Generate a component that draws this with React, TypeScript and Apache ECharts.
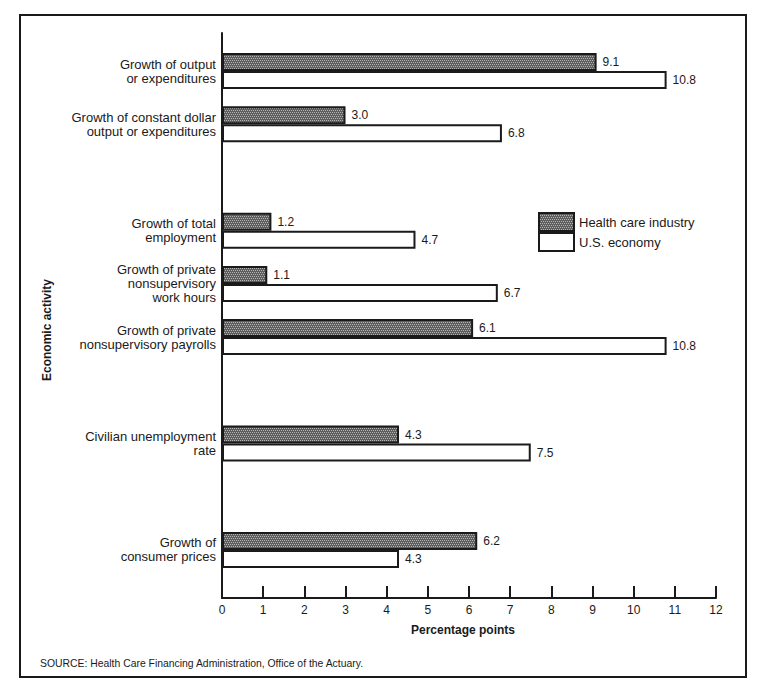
import React, { useEffect, useRef } from "react";
import * as echarts from "echarts";

const categories = [
  "Growth of output\nor expenditures",
  "Growth of constant dollar\noutput or expenditures",
  "",
  "Growth of total\nemployment",
  "Growth of private\nnonsupervisory\nwork hours",
  "Growth of private\nnonsupervisory payrolls",
  "",
  "Civilian unemployment\nrate",
  "",
  "Growth of\nconsumer prices",
];

const healthCare = [9.1, 3.0, null, 1.2, 1.1, 6.1, null, 4.3, null, 6.2];
const usEconomy = [10.8, 6.8, null, 4.7, 6.7, 10.8, null, 7.5, null, 4.3];

const seriesNames = ["Health care industry", "U.S. economy"];
const xTicks = { min: 0, max: 12, interval: 1 };

const FONT = "'Liberation Sans', Arial, Helvetica, sans-serif";

function makePattern(): any {
  const c = document.createElement("canvas");
  c.width = 4;
  c.height = 4;
  const ctx = c.getContext("2d");
  if (!ctx) return "#727272";
  ctx.fillStyle = "#5e5e5e";
  ctx.fillRect(0, 0, 4, 4);
  ctx.fillStyle = "#b4b4b4";
  ctx.fillRect(0, 0, 1, 1);
  ctx.fillRect(2, 0, 1, 1);
  ctx.fillRect(1, 2, 1, 1);
  ctx.fillRect(3, 2, 1, 1);
  return { image: c, repeat: "repeat" };
}

export default function App() {
  const ref = useRef<HTMLDivElement>(null);
  useEffect(() => {
    if (!ref.current) return;
    const chart = echarts.init(ref.current, undefined, { renderer: "svg" });
    const pattern = makePattern();
    const labelStyle = {
      show: true,
      position: "right",
      distance: 6,
      fontSize: 12,
      color: "#1a1a1a",
      fontFamily: FONT,
      formatter: (p: any) => Number(p.value).toFixed(1),
    };
    chart.setOption({
      animation: false,
      backgroundColor: "#ffffff",
      textStyle: { fontFamily: FONT, color: "#1a1a1a" },
      title: {
        text: "SOURCE: Health Care Financing Administration, Office of the Actuary.",
        left: 40,
        top: 658,
        padding: 0,
        textStyle: { fontSize: 10.4, fontWeight: "normal", color: "#1a1a1a", fontFamily: FONT },
      },
      legend: {
        data: seriesNames,
        orient: "vertical",
        left: 538,
        top: 212,
        padding: 0,
        itemWidth: 35,
        itemHeight: 18,
        itemGap: 0,
        icon: "rect",
        textStyle: { fontSize: 13, color: "#1a1a1a", fontFamily: FONT },
      },
      grid: [
        { left: 222, right: 47, top: 44.5, height: 532 },
        { left: 222, right: 47, top: 33, height: 565 },
      ],
      xAxis: [
        {
          gridIndex: 0,
          type: "value",
          min: xTicks.min,
          max: xTicks.max,
          interval: xTicks.interval,
          show: false,
        },
        {
          gridIndex: 1,
          type: "value",
          min: xTicks.min,
          max: xTicks.max,
          interval: xTicks.interval,
          axisLine: { show: true, onZero: false, lineStyle: { color: "#1a1a1a", width: 2 } },
          axisTick: { show: true, inside: true, length: 12, lineStyle: { color: "#1a1a1a", width: 2 } },
          axisLabel: { margin: 6, fontSize: 12, color: "#1a1a1a", fontFamily: FONT },
          splitLine: { show: false },
          name: "Percentage points",
          nameLocation: "middle",
          nameGap: 26,
          nameTextStyle: {
            fontSize: 12,
            fontWeight: "bold",
            color: "#1a1a1a",
            fontFamily: FONT,
            padding: [0, 12, 0, 0],
          },
        },
      ],
      yAxis: [
        {
          gridIndex: 0,
          type: "category",
          inverse: true,
          data: categories,
          axisLine: { show: false },
          axisTick: { show: false },
          axisLabel: {
            margin: 6,
            fontSize: 13,
            lineHeight: 14,
            color: "#1a1a1a",
            fontFamily: FONT,
            align: "right",
          },
          splitLine: { show: false },
        },
        {
          gridIndex: 1,
          type: "value",
          min: 0,
          max: 1,
          axisLine: { show: true, onZero: false, lineStyle: { color: "#1a1a1a", width: 2 } },
          axisTick: { show: false },
          axisLabel: { show: false },
          splitLine: { show: false },
        },
      ],
      series: [
        {
          name: seriesNames[0],
          type: "bar",
          xAxisIndex: 0,
          yAxisIndex: 0,
          data: healthCare,
          barWidth: 18,
          barGap: "0%",
          itemStyle: { color: pattern, borderColor: "#1a1a1a", borderWidth: 2 },
          label: labelStyle,
        },
        {
          name: seriesNames[1],
          type: "bar",
          xAxisIndex: 0,
          yAxisIndex: 0,
          data: usEconomy,
          barWidth: 18,
          barGap: "0%",
          itemStyle: { color: "#ffffff", borderColor: "#1a1a1a", borderWidth: 2 },
          label: labelStyle,
        },
      ],
      graphic: [
        {
          type: "rect",
          shape: { x: 20, y: 15, width: 726, height: 662 },
          style: { fill: "none", stroke: "#1a1a1a", lineWidth: 2 },
          silent: true,
        },
        {
          type: "text",
          x: 47,
          y: 330,
          rotation: Math.PI / 2,
          silent: true,
          style: {
            text: "Economic activity",
            fontSize: 12,
            fontWeight: "bold",
            fontFamily: FONT,
            fill: "#1a1a1a",
            align: "center",
            verticalAlign: "middle",
          },
        },
      ],
    });
    return () => chart.dispose();
  }, []);
  return (
    <div
      ref={ref}
      style={{ position: "fixed", left: 0, top: 0, width: 763, height: 691, background: "#fff" }}
    />
  );
}
